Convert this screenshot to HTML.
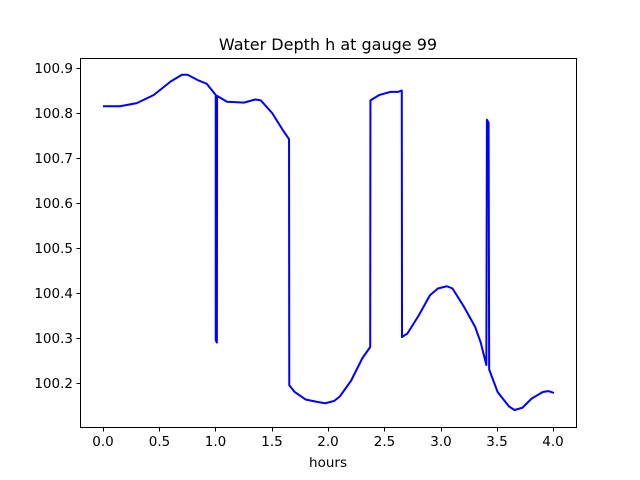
<!DOCTYPE html>
<html><head><style>body{margin:0;background:#fff}svg{display:block}text{font-family:"DejaVu Sans","Liberation Sans",sans-serif;fill:#000}</style></head>
<body>
<svg width="640" height="480" viewBox="0 0 640 480" xmlns="http://www.w3.org/2000/svg">
<rect width="640" height="480" fill="#fff"/>
<g transform="translate(103,383) scale(112.75,-450)">
<polyline fill="none" stroke="#0000ff" stroke-width="2" vector-effect="non-scaling-stroke" stroke-linejoin="round"
points="0,0.615 0.15,0.615 0.3,0.622 0.45,0.64 0.6,0.67 0.7,0.685 0.75,0.685 0.85,0.672 0.92,0.665 1.0,0.64 1.0,0.095 1.01,0.09 1.012,0.638 1.1,0.625 1.25,0.623 1.35,0.63 1.4,0.628 1.5,0.6 1.6,0.56 1.65,0.542 1.652,-0.005 1.7,-0.02 1.8,-0.037 1.9,-0.042 1.97,-0.045 2.05,-0.04 2.1,-0.03 2.2,0.005 2.3,0.055 2.37,0.08 2.372,0.628 2.45,0.64 2.55,0.647 2.62,0.647 2.65,0.65 2.652,0.102 2.7,0.11 2.8,0.15 2.9,0.195 2.97,0.21 3.05,0.215 3.1,0.21 3.15,0.19 3.2,0.17 3.3,0.125 3.35,0.09 3.4,0.04 3.405,0.585 3.42,0.578 3.425,0.03 3.5,-0.02 3.6,-0.052 3.65,-0.06 3.72,-0.055 3.8,-0.035 3.9,-0.02 3.95,-0.018 4.0,-0.022"/>
</g>
<rect x="80.5" y="58.5" width="496" height="369" fill="none" stroke="#000" stroke-width="1"/>
<g stroke="#000" stroke-width="1">
<line x1="80" x2="76.5" y1="383.5" y2="383.5"/><line x1="80" x2="76.5" y1="338.5" y2="338.5"/><line x1="80" x2="76.5" y1="293.5" y2="293.5"/><line x1="80" x2="76.5" y1="248.5" y2="248.5"/><line x1="80" x2="76.5" y1="203.5" y2="203.5"/><line x1="80" x2="76.5" y1="158.5" y2="158.5"/><line x1="80" x2="76.5" y1="113.5" y2="113.5"/><line x1="80" x2="76.5" y1="68.5" y2="68.5"/>
<line x1="103.5" x2="103.5" y1="428" y2="431.5"/><line x1="159.5" x2="159.5" y1="428" y2="431.5"/><line x1="215.5" x2="215.5" y1="428" y2="431.5"/><line x1="272.5" x2="272.5" y1="428" y2="431.5"/><line x1="328.5" x2="328.5" y1="428" y2="431.5"/><line x1="384.5" x2="384.5" y1="428" y2="431.5"/><line x1="441.5" x2="441.5" y1="428" y2="431.5"/><line x1="497.5" x2="497.5" y1="428" y2="431.5"/><line x1="553.5" x2="553.5" y1="428" y2="431.5"/>
</g>
<g font-size="13.5" text-anchor="end">
<text x="73" y="388">100.2</text><text x="73" y="343">100.3</text><text x="73" y="298">100.4</text><text x="73" y="253">100.5</text><text x="73" y="208">100.6</text><text x="73" y="163">100.7</text><text x="73" y="118">100.8</text><text x="73" y="73">100.9</text>
</g>
<g font-size="13.5" text-anchor="middle">
<text x="103" y="446">0.0</text><text x="159.5" y="446">0.5</text><text x="215.5" y="446">1.0</text><text x="272" y="446">1.5</text><text x="328" y="446">2.0</text><text x="384.5" y="446">2.5</text><text x="441" y="446">3.0</text><text x="497" y="446">3.5</text><text x="553" y="446">4.0</text>
<text x="328" y="467">hours</text>
<text x="328" y="50" font-size="16">Water Depth h at gauge 99</text>
</g>
</svg>
</body></html>
